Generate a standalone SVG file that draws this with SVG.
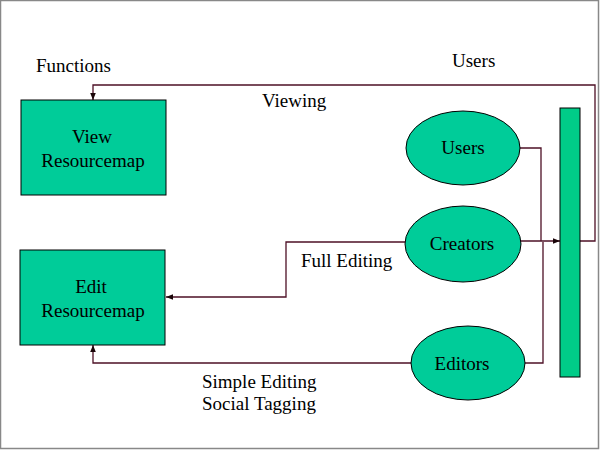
<svg xmlns="http://www.w3.org/2000/svg" width="600" height="450" viewBox="0 0 600 450">
<defs>
<style>
text{font-family:'Liberation Serif','Times New Roman','DejaVu Serif',serif;font-size:19px;fill:#000}
.c{text-anchor:middle}
.node{fill:#00cc99;stroke:#000;stroke-width:1}
.bar{fill:#00cc88;stroke:#000;stroke-width:1}
.conn{fill:none;stroke:#4d1026;stroke-width:1.3}
</style>
<marker id="ah" viewBox="0 0 10 10" refX="10" refY="5" markerWidth="7" markerHeight="7" markerUnits="userSpaceOnUse" orient="auto">
<path d="M0,1 L10,5 L0,9 z" fill="#1a0508"/>
</marker>
</defs>
<rect x="0" y="0" width="600" height="450" fill="#fff"/>
<rect x="0.5" y="0.5" width="598" height="448" fill="none" stroke="#888" stroke-width="1.5"/>
<g font-family="Liberation Serif, serif">
<text x="36" y="72">Functions</text>
<text x="452" y="67">Users</text>
<text x="262" y="107">Viewing</text>
<text x="301" y="267">Full Editing</text>
<text x="202" y="388">Simple Editing</text>
<text x="202" y="410">Social Tagging</text>
</g>
<g id="connectors">
<path class="conn" d="M580,241 H595 V85 H93 V100" marker-end="url(#ah)"/>
<path class="conn" d="M520,148 H541 V241"/>
<path class="conn" d="M520,241 H560" marker-end="url(#ah)"/>
<path class="conn" d="M525,363 H543 V242"/>
<path class="conn" d="M405,242 H286 V297 H166" marker-end="url(#ah)"/>
<path class="conn" d="M411,363 H93 V345" marker-end="url(#ah)"/>
</g>
<g id="view">
<rect class="node" x="21" y="100" width="145" height="95"/>
<text class="c" x="92" y="143">View</text>
<text class="c" x="93" y="167">Resourcemap</text>
</g>
<g id="edit">
<rect class="node" x="20" y="250" width="145" height="95"/>
<text class="c" x="91" y="293">Edit</text>
<text class="c" x="93" y="317">Resourcemap</text>
</g>
<g id="users">
<ellipse class="node" cx="463" cy="148" rx="57" ry="37"/>
<text class="c" x="463" y="154">Users</text>
</g>
<g id="creators">
<ellipse class="node" cx="463" cy="244" rx="58" ry="38"/>
<text class="c" x="462" y="250">Creators</text>
</g>
<g id="editors">
<ellipse class="node" cx="468" cy="363" rx="57" ry="37"/>
<text class="c" x="462" y="370">Editors</text>
</g>
<g id="bar">
<rect class="bar" x="560" y="108" width="20" height="269"/>
</g>
</svg>
